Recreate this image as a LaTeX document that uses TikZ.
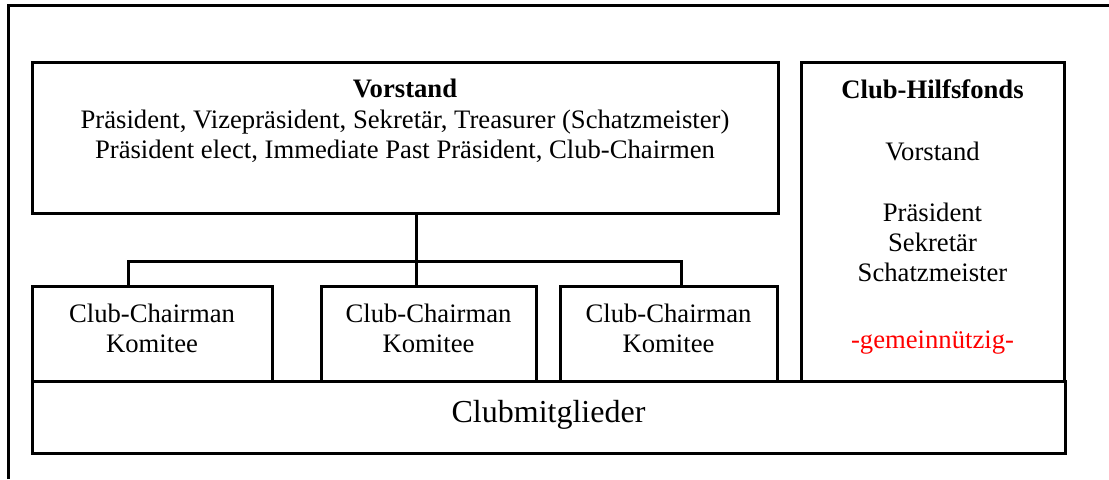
\documentclass[tikz,border=0pt]{standalone}
\usepackage{fontspec}
\setmainfont{Liberation Serif}
\begin{document}
\begin{tikzpicture}[x=0.75pt,y=-0.75pt,
  box/.style={draw,line width=2.25pt,inner sep=0pt},
  txt/.style={anchor=base,inner sep=0pt,font=\fontsize{20pt}{22.5pt}\selectfont},
  bigtxt/.style={anchor=base,inner sep=0pt,font=\fontsize{24pt}{27pt}\selectfont},
  conn/.style={line width=2.25pt}]
\useasboundingbox (0,0) rectangle (1109,479);
% outer frame (only top and left edges visible)
\draw[line width=2.25pt] (8,479) -- (8,5) -- (1109,5);
% boxes
\node[box,minimum width=559.5pt,minimum height=113.25pt] (V) at (405,137.5) {};
\node[box,minimum width=197.25pt,minimum height=239.25pt] (H) at (932.5,221.5) {};
\node[box,minimum width=180pt,minimum height=71.25pt] (K1) at (152,333.5) {};
\node[box,minimum width=161.25pt,minimum height=71.25pt] (K2) at (428.5,333.5) {};
\node[box,minimum width=162.75pt,minimum height=71.25pt] (K3) at (668.5,333.5) {};
\node[box,minimum width=774.75pt,minimum height=54pt] (M) at (548.5,417) {};
% connectors
\coordinate (j) at (416.7,261);
\coordinate (jl) at (128,261);
\coordinate (jr) at (681,261);
\draw[conn] (j |- V.south) -- (j |- K2.north);
\draw[conn] (jl |- K1.north) -- (jl) -- (jr) -- (jr |- K3.north);
% Vorstand texts
\node[txt] (v1) at (405,97.3) {\textbf{Vorstand}};
\node[txt] (v2) at (405,128.3) {Präsident, Vizepräsident, Sekretär, Treasurer (Schatzmeister)};
\node[txt] (v3) at (405,158.3) {Präsident elect, Immediate Past Präsident, Club-Chairmen};
% Hilfsfonds texts
\node[txt] (h1) at (932.5,98.3) {\textbf{Club-Hilfsfonds}};
\node[txt] (h2) at (932.5,160) {Vorstand};
\node[txt] (h3) at (932.5,221.7) {Präsident};
\node[txt] (h4) at (932.5,251.7) {Sekretär};
\node[txt] (h5) at (932.5,281.7) {Schatzmeister};
\node[txt,text=red] (h6) at (932.5,348.3) {-gemeinnützig-};
% committee texts
\node[txt] (k1a) at (152,322) {Club-Chairman};
\node[txt] (k1b) at (152,352) {Komitee};
\node[txt] (k2a) at (428.5,322) {Club-Chairman};
\node[txt] (k2b) at (428.5,352) {Komitee};
\node[txt] (k3a) at (668.5,322) {Club-Chairman};
\node[txt] (k3b) at (668.5,352) {Komitee};
% members
\node[bigtxt] (m1) at (548.5,422.3) {Clubmitglieder};
\end{tikzpicture}
\end{document}
